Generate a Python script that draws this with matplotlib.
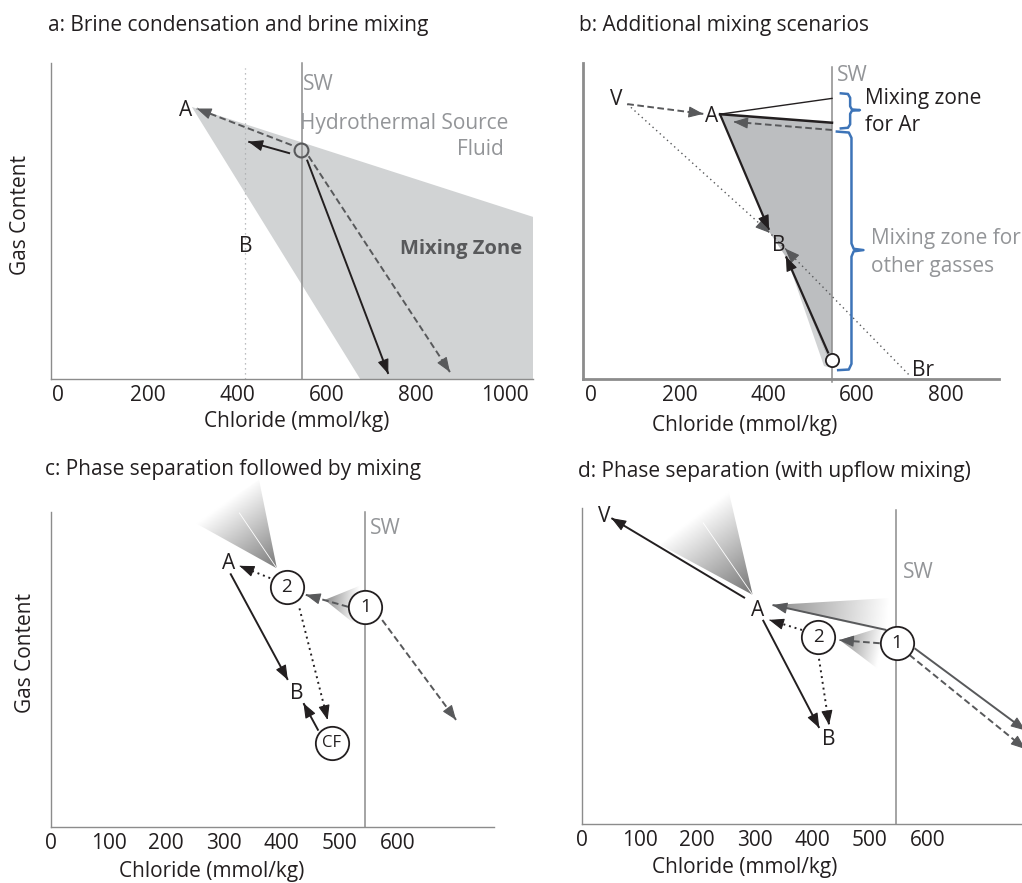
import numpy as np
import matplotlib.pyplot as plt
from matplotlib.patches import Polygon

plt.rcParams['font.family'] = ['Open Sans', 'DejaVu Sans']

W, H = 1022, 883
BLACK = '#231f20'
DARK = '#58595b'
AXIS_GREY = '#8c8c8c'
TEXT_GREY = '#939598'
LIGHT_FILL = '#d1d3d4'
MID_FILL = '#bcbec0'
BLUE = '#3d74b8'
FS = 15

SW_CL = 545  # seawater chloride, mmol/kg

# ---------------- panel a: brine condensation and brine mixing
a_ticks = [0, 200, 400, 600, 800, 1000]
a_zone_cl = [299, 1063, 1063, 676]
a_zone_gas = [86.1, 51.3, 0, 0]
a_source = (543, 72.5)
a_dotted_cl = 419
a_dashed = [((522.7, 74.0), (310, 85.6)), ((560.6, 70.5), (877, 2.2))]
a_solid = [((519, 71.4), (425.6, 75.1)), ((556.8, 69.4), (739, 1.6))]
a_points = {'A': (286, 84.9), 'B': (420, 42)}

# ---------------- panel b: additional mixing scenarios
b_ticks = [0, 200, 400, 600, 800]
b_zone_cl = [291.2, 404.1, 440.2, 537.2, 544, 544]
b_zone_gas = [83.8, 46.2, 38.6, 5.4, 3.8, 81.1]
b_sliver_cl = [435.7, 526, 544, 537.2, 440.2]
b_sliver_gas = [40.8, 4.1, 3.5, 5.4, 38.6]
b_ar_line = [(291.2, 83.8), (544, 88.8)]
b_top_edge = [(291.2, 83.8), (544, 81.1)]
b_source = (544, 6)
b_v_br_cl = [82, 404, 720]
b_v_br_gas = [87, 46.2, 1]
b_dashed = [((544, 78.8), (321.2, 81.4)), ((82, 87), (253.5, 83.9))]
b_solid = [((291.2, 83.8), (402, 47.2)), ((536, 8.1), (440, 38.8))]
b_dot_heads = [((82, 87), (404, 46.2)), ((720, 1), (438, 41.3))]
b_points = {'V': (58, 88.3), 'A': (272.4, 83), 'B': (422.9, 42.1), 'Br': (750, 2.8)}
b_brace_ar_cl = [564, 580, 585, 585, 589, 607, 589, 585, 585, 580, 564]
b_brace_ar_gas = [90.4, 90.2, 89.0, 86.3, 85.3, 85.1, 84.9, 83.9, 80.6, 79.5, 79.3]
b_brace_other_cl = [555, 582, 588, 588, 593, 615, 593, 588, 588, 582, 558]
b_brace_other_gas = [78.3, 78.0, 76.3, 42.9, 41.2, 40.8, 40.4, 38.7, 4.8, 3.0, 2.8]

# ---------------- panel c: phase separation followed by mixing
c_ticks = [0, 100, 200, 300, 400, 500, 600]
c_circles = {'2': (409, 76.3), '1': (545, 70), 'CF': (486.4, 26.6)}
c_points = {'A': (307.4, 83.7), 'B': (426, 42.4)}
c_dotted = [((380, 79), (327, 82.9)), ((430.8, 69.4), (479.5, 34))]
c_solid = [((311, 80.5), (410.6, 46.7)), ((463.5, 30.6), (437.7, 39.3))]
c_dashed = [((515, 69.9), (441.7, 73.7)), ((574, 65.7), (701.9, 34))]
c_fan_big = [(391.7, 82.1), (250.6, 96.5), (360.8, 110.2)]
c_fan_big_split = (326.7, 99.7)
c_fan_small = [(474.4, 72.1), (538, 76.8), (524, 64.8)]

# ---------------- panel d: phase separation (with upflow mixing)
d_ticks = [0, 100, 200, 300, 400, 500, 600]
d_circles = {'2': (410, 59.2), '1': (547, 57.3)}
d_points = {'V': (38, 97.2), 'A': (305, 67.7), 'B': (429, 26.6)}
d_solid = [((283, 71.5), (51, 96.8)), ((314, 64.6), (412, 30.4))]
d_dotted = [((410, 54.1), (429, 31.3)), ((382, 61.4), (325, 64.6))]
d_grey_solid = [((528.5, 61.4), (330.8, 69.3)), ((577.5, 55.6), (770, 29.6))]
d_grey_dashed = [((517, 57.2), (446.5, 58.2)), ((568.6, 53.5), (770, 23.7))]
d_fan_big = [(296.4, 72.5), (136.4, 88.3), (253.4, 106.3)]
d_fan_big_split = (210.4, 95.3)
d_fan_upper = [(330.9, 69.3), (533.7, 71.5), (529, 60.8)]
d_fan_lower = [(447.5, 58.2), (520, 62.3), (516.6, 48.7)]

fig = plt.figure(figsize=(W / 100, H / 100), dpi=100)


def make_axes(l, r, b, t):
    return fig.add_axes([l / W, 1 - b / H, (r - l) / W, (b - t) / H])


def style_axes(ax, xlim, ylim, ticks, lw=1.0):
    ax.set_xlim(*xlim)
    ax.set_ylim(*ylim)
    ax.patch.set_visible(False)
    for s in ['top', 'right']:
        ax.spines[s].set_visible(False)
    for s in ['left', 'bottom']:
        ax.spines[s].set_color(AXIS_GREY)
        ax.spines[s].set_linewidth(lw)
    ax.spines['left'].set_bounds(0, 100)
    ax.set_xticks(ticks)
    ax.set_yticks([])
    ax.tick_params(axis='x', length=0, pad=4, labelsize=FS, labelcolor=BLACK)


def sw_line(ax, top=100, bottom=0):
    ax.plot([SW_CL, SW_CL], [bottom, top], color=AXIS_GREY, lw=1.1, zorder=2,
            clip_on=False)


def head_only(ax, tail, head, color, z=4):
    dx, dy = head[0] - tail[0], head[1] - tail[1]
    ax.annotate('', xy=head, xytext=(head[0] - 0.02 * dx, head[1] - 0.02 * dy),
                arrowprops=dict(arrowstyle='-|>,head_length=0.7,head_width=0.27',
                                color=color, lw=0.8, shrinkA=0, shrinkB=0,
                                mutation_scale=13),
                zorder=z + 0.1, annotation_clip=False)


def arrow(ax, tail, head, color=BLACK, ls='-', lw=1.4, z=4):
    ax.plot([tail[0], head[0]], [tail[1], head[1]], color=color, ls=ls, lw=lw,
            zorder=z, solid_capstyle='butt', dash_capstyle='butt')
    head_only(ax, tail, head, color, z)


def label(ax, xy, s, **kw):
    kw.setdefault('ha', 'center')
    kw.setdefault('va', 'center')
    kw.setdefault('fontsize', FS)
    kw.setdefault('color', BLACK)
    ax.text(xy[0], xy[1], s, zorder=6, **kw)


def ring(ax, xy, s, ms=24, fs=13.5):
    ax.plot([xy[0]], [xy[1]], 'o', ms=ms, mfc='white', mec=BLACK, mew=1.3,
            zorder=5)
    ax.text(xy[0], xy[1], s, ha='center', va='center', fontsize=fs,
            color=BLACK, zorder=6)


def fan(ax, pts, dark):
    pts = np.array(pts, dtype=float)
    disp = ax.transData.transform(pts)
    apex = disp[0]
    d = (disp[1] + disp[2]) / 2 - apex
    xs = np.linspace(pts[:, 0].min(), pts[:, 0].max(), 160)
    ys = np.linspace(pts[:, 1].min(), pts[:, 1].max(), 160)
    gx, gy = np.meshgrid(xs, ys)
    g = ax.transData.transform(np.column_stack([gx.ravel(), gy.ravel()]))
    t = np.clip(((g - apex) @ d / (d @ d)).reshape(gx.shape), 0, 1)
    val = dark + (1 - dark) * t
    poly = Polygon(pts, closed=True, fc='none', ec='none')
    ax.add_patch(poly)
    im = ax.imshow(val, cmap='gray', vmin=0, vmax=1, origin='lower',
                   extent=(xs[0], xs[-1], ys[0], ys[-1]), aspect='auto',
                   interpolation='bilinear', zorder=1)
    im.set_clip_path(poly)


# ================= a
ax = make_axes(51, 533, 379, 63)
style_axes(ax, (-16.3, 1063), (0, 100), a_ticks)
ax.fill(a_zone_cl, a_zone_gas, color=LIGHT_FILL, lw=0, zorder=1)
ax.plot([a_dotted_cl, a_dotted_cl], [0, 98.4], color='#a7a9ac', lw=0.9,
        ls=(0, (1, 3)), zorder=2)
sw_line(ax)
for tail, head in a_dashed:
    arrow(ax, tail, head, color=DARK, ls=(0, (3.4, 1.8)))
for tail, head in a_solid:
    arrow(ax, tail, head)
ax.plot([a_source[0]], [a_source[1]], 'o', ms=10, mfc='none', mec=DARK,
        mew=1.5, zorder=5)
for k, v in a_points.items():
    label(ax, v, k)
label(ax, (547.5, 93.1), 'SW', ha='left', color=TEXT_GREY)
label(ax, (1008.5, 81), 'Hydrothermal Source', ha='right', color=TEXT_GREY)
label(ax, (998.5, 72.6), 'Fluid', ha='right', color=TEXT_GREY)
label(ax, (1039.4, 41.1), 'Mixing Zone', ha='right', color=DARK,
      fontweight='bold', fontsize=14.5)

# ================= b
ax = make_axes(583, 999, 379, 63)
style_axes(ax, (-18, 921), (0, 100), b_ticks, lw=2.0)
ax.fill(b_sliver_cl, b_sliver_gas, color=LIGHT_FILL, lw=0, zorder=1)
ax.fill(b_zone_cl, b_zone_gas, color=MID_FILL, lw=0, zorder=1)
sw_line(ax, top=98.7, bottom=-1)
ax.plot(*zip(*b_ar_line), color=BLACK, lw=1.0, zorder=3)
ax.plot(*zip(*b_top_edge), color=BLACK, lw=1.8, zorder=3)
ax.plot(b_v_br_cl, b_v_br_gas, color=DARK, lw=1.0, ls=(0, (1, 2.5)), zorder=3)
for tail, head in b_dot_heads:
    head_only(ax, tail, head, DARK)
for tail, head in b_dashed:
    arrow(ax, tail, head, color=DARK, ls=(0, (3.4, 1.8)))
for tail, head in b_solid:
    arrow(ax, tail, head, lw=1.6)
ax.plot([b_source[0]], [b_source[1]], 'o', ms=9.5, mfc='white', mec=BLACK,
        mew=1.3, zorder=5)
ax.plot(b_brace_ar_cl, b_brace_ar_gas, color=BLUE, lw=1.8, zorder=3,
        clip_on=False)
ax.plot(b_brace_other_cl, b_brace_other_gas, color=BLUE, lw=1.8, zorder=3,
        clip_on=False)
for k, v in b_points.items():
    label(ax, v, k)
label(ax, (554.6, 96.2), 'SW', ha='left', color=TEXT_GREY)
label(ax, (618.5, 88.8), 'Mixing zone', ha='left')
label(ax, (618.5, 80.1), 'for Ar', ha='left')
label(ax, (632, 44.5), 'Mixing zone for', ha='left', color=TEXT_GREY)
label(ax, (632, 35.5), 'other gasses', ha='left', color=TEXT_GREY)

# ================= c
ax = make_axes(50.7, 494, 827, 827 - 315 * 1.12)
style_axes(ax, (5.7, 767.6), (0, 112), c_ticks)
fan(ax, c_fan_big, 0.48)
ax.plot([c_fan_big[0][0], c_fan_big_split[0]], [c_fan_big[0][1], c_fan_big_split[1]],
        color='white', lw=0.6, zorder=1.5)
fan(ax, c_fan_small, 0.55)
sw_line(ax)
for tail, head in c_dotted:
    arrow(ax, tail, head, ls=(0, (1, 2)))
for tail, head in c_solid:
    arrow(ax, tail, head)
for tail, head in c_dashed:
    arrow(ax, tail, head, color=DARK, ls=(0, (3.4, 1.8)))
for k, v in c_circles.items():
    ring(ax, v, k, fs=13.5 if k != 'CF' else 12)
for k, v in c_points.items():
    label(ax, v, k)
label(ax, (553.5, 94.8), 'SW', ha='left', color=TEXT_GREY)

# ================= d
ax = make_axes(582, 1022, 824, 824 - 316 * 1.12)
style_axes(ax, (7.4, 764), (0, 112), d_ticks)
fan(ax, d_fan_big, 0.45)
ax.plot([d_fan_big[0][0], d_fan_big_split[0]], [d_fan_big[0][1], d_fan_big_split[1]],
        color='white', lw=0.6, zorder=1.5)
fan(ax, d_fan_upper, 0.55)
fan(ax, d_fan_lower, 0.55)
sw_line(ax, top=99.4)
for tail, head in d_solid:
    arrow(ax, tail, head)
for tail, head in d_dotted:
    arrow(ax, tail, head, ls=(0, (1, 2)))
for tail, head in d_grey_solid:
    arrow(ax, tail, head, color=DARK)
for tail, head in d_grey_dashed:
    arrow(ax, tail, head, color=DARK, ls=(0, (3.4, 1.8)))
for k, v in d_circles.items():
    ring(ax, v, k)
for k, v in d_points.items():
    label(ax, v, k)
label(ax, (557, 79.7), 'SW', ha='left', color=TEXT_GREY)

# ================= titles and axis labels
for x, y, s in [(48, 25, 'a: Brine condensation and brine mixing'),
                (579, 25, 'b: Additional mixing scenarios'),
                (45, 470, 'c: Phase separation followed by mixing'),
                (578, 471, 'd: Phase separation (with upflow mixing)')]:
    fig.text(x / W, 1 - y / H, s, ha='left', va='center', fontsize=FS, color=BLACK)
for x, y in [(297, 422), (745, 425), (212, 872), (745, 867)]:
    fig.text(x / W, 1 - y / H, 'Chloride (mmol/kg)', ha='center', va='center',
             fontsize=FS, color=BLACK)
for x, y in [(21, 215), (26, 653)]:
    fig.text(x / W, 1 - y / H, 'Gas Content', ha='center', va='center',
             rotation=90, fontsize=FS, color=BLACK)

fig.savefig('out.png', dpi=100)
